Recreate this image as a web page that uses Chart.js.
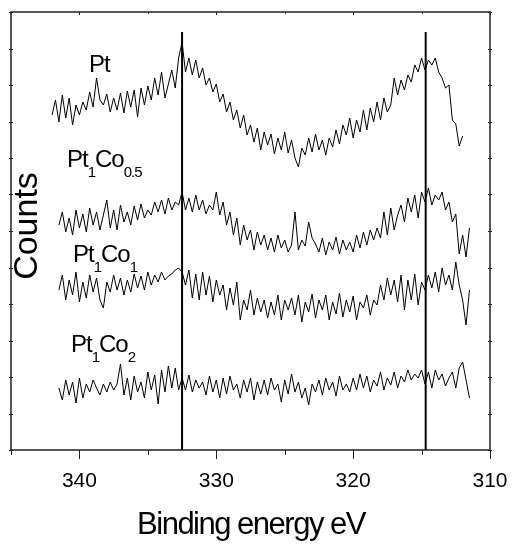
<!DOCTYPE html>
<html lang="fr">
<head>
<meta charset="utf-8">
<title>Spectres XPS Pt 4f</title>
<script src="https://cdn.jsdelivr.net/npm/chart.js@4.4.1/dist/chart.umd.min.js"></script>
<style>
  html, body { margin: 0; padding: 0; background: #fff; }
  #wrap { width: 514px; height: 550px; }
</style>
</head>
<body>
<div id="wrap"><canvas id="xpsChart" width="514" height="550"></canvas></div>
<script>
// Échantillonnage en énergie de liaison (eV)
const xStep    = 0.25;
const xStartPt = 342;
const xStartCo = 341.5;

// Graduations
const xTicks      = [340, 330, 320, 310];
const xMinorTicks = [345, 335, 325, 315];
const yTicks      = [0, 36.5, 73, 109.5, 146, 182.5, 219, 255.5, 292, 328.5, 365, 401.5, 438];

// Positions des pics (traits verticaux) et leur hauteur
const peakLines = [332.5, 314.7];
const peakTop   = 418;

// Intensités relevées (unités arbitraires, spectres décalés)
const ptCounts = [
  335, 350, 328, 355, 332, 352, 325, 345, 335, 348, 340, 358, 343, 372, 350,
  345, 356, 338, 352, 340, 357, 337, 359, 343, 360, 333, 362, 345, 364,
  350, 372, 355, 378, 352, 366,
  380, 362, 392, 408,
  378, 392, 375, 390, 372,
  382, 365, 372, 358, 366, 348, 356, 338, 348, 330, 340, 322, 335, 315, 325,
  308, 322, 300, 318, 305, 316, 296, 312, 300, 318, 297, 310, 292, 283, 302, 295, 312, 298, 316, 300, 310, 295, 312, 303, 320, 306,
  325, 315, 332, 312, 330, 318, 340, 320, 342, 328, 348, 330, 352, 338, 345,
  372, 355, 370, 360, 375, 368, 385, 378, 392,
  380, 390, 385, 392, 378, 372, 362, 365, 330, 326, 304, 314
];

const co05Counts = [
  225, 238, 218, 232, 215, 240, 222, 236, 218, 242, 225, 238, 220,
  235, 250, 222, 240, 220, 245, 228, 238, 225, 244, 230, 246, 232, 240,
  235, 248, 238, 250, 236, 252, 240, 248, 245, 258,
  240, 252, 238, 255, 240, 250, 236, 245, 240, 258, 235,
  248, 225, 238, 215, 232, 205, 225, 210, 220,
  200, 218, 205, 215, 200, 212, 198, 215, 202, 210, 198,
  205, 238, 200,
  210, 204, 228, 212, 206, 198, 212, 195, 208, 200, 213, 196, 210, 200,
  208, 198, 215, 202, 218, 205, 220, 210, 222,
  212, 238, 215, 242, 220, 235,
  245, 228, 252, 238, 255, 232,
  258, 248, 262,
  245, 255, 250,
  258, 240, 248, 228, 236, 196, 215, 193, 222
];

const co1Counts = [
  160, 175, 150, 170, 155, 178, 148, 168, 152, 175, 158, 172, 150,
  142, 168, 158, 175, 160, 172, 155, 170, 158, 176, 162, 174, 160, 178,
  165, 175, 168, 178, 170, 174, 176, 180, 182, 178,
  165, 180, 152, 176, 150, 178, 155, 174, 148, 170, 155,
  165, 140, 162, 145, 168, 130, 150, 140, 160,
  135, 152, 138, 150, 132, 148, 135, 155, 130, 150, 140,
  152, 135, 155, 128, 148, 138, 156, 132, 150, 140, 155, 130, 148, 136, 157, 133, 150, 138, 154, 130, 148, 142, 155, 135, 150, 145,
  165, 150, 172, 155, 170, 148,
  175, 140, 170, 150, 176, 145, 168, 160, 175,
  162, 178, 158, 182, 165, 175, 160, 188,
  165, 150, 125, 160
];

const co2Counts = [
  62, 50, 70, 55, 68, 47, 72, 52, 66, 58, 70, 62, 55, 66, 58, 68, 60, 66, 86, 55, 72, 50, 74, 58, 68,
  52, 78, 60, 75, 46, 80, 58, 84, 62, 82, 60, 72,
  60, 75, 58, 70, 62, 68, 55, 74, 58, 70, 52, 72, 56, 74, 60, 66, 52, 70, 58, 72, 50, 68, 56,
  70, 55, 72, 60, 66, 48, 70, 56, 76, 58, 68, 52, 62, 45, 66, 58, 70, 55, 72, 60, 68, 54, 74, 60, 66, 58,
  72, 60, 76, 62, 74, 58, 70, 64, 78, 60, 72, 65, 78, 62, 74, 68, 80, 70, 76, 72,
  80, 66, 78, 62, 80, 70, 76, 64, 72, 78, 62, 82, 88, 70, 52
];

// Étiquettes des échantillons : [texte, indice ?]
const sampleLabels = [
  { parts: [['Pt', 0]], x: 89, y: 72 },
  { parts: [['Pt', 0], ['1', 1], ['Co', 0], ['0.5', 1]], x: 67, y: 167 },
  { parts: [['Pt', 0], ['1', 1], ['Co', 0], ['1', 1]], x: 73, y: 262 },
  { parts: [['Pt', 0], ['1', 1], ['Co', 0], ['2', 1]], x: 71, y: 352 }
];

const FONT = '"Liberation Sans", Arial, sans-serif';

// Transforme une liste d'intensités en points {x, y}
function toPoints(start, values) {
  return values.map((v, i) => ({ x: start - i * xStep, y: v }));
}

function spectrum(data) {
  return { data, borderColor: '#000', borderWidth: 1, pointRadius: 0, tension: 0, fill: false };
}

function peakLine(e) {
  return {
    data: [{ x: e, y: 0 }, { x: e, y: peakTop }],
    borderColor: '#000', borderWidth: 2, pointRadius: 0, fill: false
  };
}

// Cadre, graduations et textes
const cadre = {
  id: 'cadre',
  afterDraw(chart) {
    const { ctx, chartArea: a, scales: { x, y } } = chart;
    ctx.save();
    ctx.strokeStyle = '#222';
    ctx.lineWidth = 1.5;
    ctx.strokeRect(a.left, a.top, a.right - a.left, a.bottom - a.top);

    ctx.lineWidth = 1;
    ctx.beginPath();
    xTicks.forEach(v => {
      const px = Math.round(x.getPixelForValue(v)) + 0.5;
      ctx.moveTo(px, a.bottom); ctx.lineTo(px, a.bottom + 9);
      ctx.moveTo(px, a.top);    ctx.lineTo(px, a.top + 3);
    });
    xMinorTicks.forEach(v => {
      const px = Math.round(x.getPixelForValue(v)) + 0.5;
      ctx.moveTo(px, a.bottom); ctx.lineTo(px, a.bottom + 5);
      ctx.moveTo(px, a.top);    ctx.lineTo(px, a.top + 2);
    });
    yTicks.forEach(v => {
      const py = Math.round(y.getPixelForValue(v)) + 0.5;
      ctx.moveTo(a.left - 2, py);  ctx.lineTo(a.left + 2, py);
      ctx.moveTo(a.right - 2, py); ctx.lineTo(a.right + 2, py);
    });
    ctx.stroke();

    ctx.fillStyle = '#000';
    ctx.textBaseline = 'alphabetic';

    // Titre de l'axe Y
    ctx.save();
    ctx.translate(37, 226);
    ctx.rotate(-Math.PI / 2);
    ctx.textAlign = 'center';
    ctx.font = '34px ' + FONT;
    ctx.fillText('Counts', 0, 0);
    ctx.restore();

    // Titre de l'axe X
    ctx.save();
    ctx.textAlign = 'center';
    ctx.font = '31px ' + FONT;
    ctx.letterSpacing = '-1.5px';
    ctx.fillText('Binding energy eV', 251, 534);
    ctx.restore();

    // Noms des échantillons
    ctx.save();
    ctx.textAlign = 'left';
    ctx.letterSpacing = '-1px';
    sampleLabels.forEach(lab => {
      let cx = lab.x;
      lab.parts.forEach(([txt, sub]) => {
        ctx.font = (sub ? '15px ' : '24px ') + FONT;
        ctx.fillText(txt, cx, lab.y + (sub ? 10 : 0));
        cx += ctx.measureText(txt).width;
      });
    });
    ctx.restore();

    ctx.restore();
  }
};

window.addEventListener('DOMContentLoaded', () => {
  const ctx = document.getElementById('xpsChart').getContext('2d');
  new Chart(ctx, {
    type: 'line',
    data: {
      datasets: [
        spectrum(toPoints(xStartPt, ptCounts)),
        spectrum(toPoints(xStartCo, co05Counts)),
        spectrum(toPoints(xStartCo, co1Counts)),
        spectrum(toPoints(xStartCo, co2Counts)),
        ...peakLines.map(peakLine)
      ]
    },
    options: {
      responsive: false,
      animation: false,
      events: [],
      layout: { padding: { left: 11, top: 12, right: 24, bottom: 0 } },
      plugins: { legend: { display: false }, tooltip: { enabled: false } },
      scales: {
        x: {
          type: 'linear',
          reverse: true,
          min: 310,
          max: 345,
          grid: { display: false, drawTicks: false },
          border: { display: false },
          afterBuildTicks: s => { s.ticks = xTicks.map(v => ({ value: v })); },
          afterFit: s => {
            s.height = 100;
            s.paddingLeft = 0;
            s.paddingRight = 0;
          },
          ticks: {
            color: '#000',
            padding: 19,
            maxRotation: 0,
            font: { family: FONT, size: 21 }
          }
        },
        y: { display: false, min: 0, max: 438 }
      }
    },
    plugins: [cadre]
  });
});
</script>
</body>
</html>
